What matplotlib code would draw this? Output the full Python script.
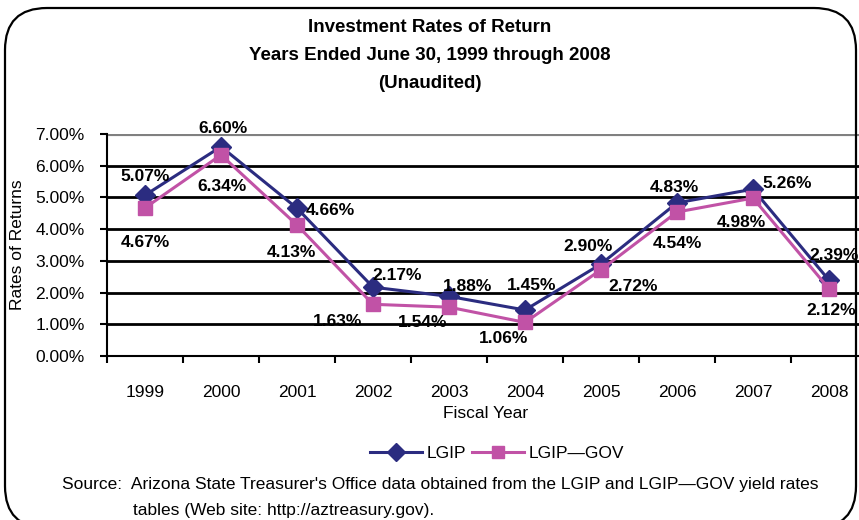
# Investment Rates of Return, LGIP vs LGIP-GOV
import matplotlib
matplotlib.use("Agg")
import matplotlib.pyplot as plt
from matplotlib.patches import FancyBboxPatch
from matplotlib.transforms import IdentityTransform

# data
years = ["1999", "2000", "2001", "2002", "2003", "2004", "2005", "2006", "2007", "2008"]
lgip = [5.07, 6.60, 4.66, 2.17, 1.88, 1.45, 2.90, 4.83, 5.26, 2.39]
lgip_gov = [4.67, 6.34, 4.13, 1.63, 1.54, 1.06, 2.72, 4.54, 4.98, 2.12]
title_lines = ["Investment Rates of Return", "Years Ended June 30, 1999 through 2008", "(Unaudited)"]

# label offsets in pixels (dx, dy)
lgip_off = [(0, 19), (2, 18), (33, -2), (24, 12), (19, 10), (7, 25), (-13, 18), (-3, 15), (34, 6), (5, 25)]
gov_off = [(0, -35), (1, -32), (-6, -27), (-35, -17), (-26, -15), (-21, -16), (32, -17), (0, -31), (-12, -24), (2, -22)]

navy = "#2B2C80"
pink = "#C152A6"
plt.rcParams["font.family"] = ["Liberation Sans", "DejaVu Sans"]

W, H = 859, 520
fig = plt.figure(figsize=(W / 100, H / 100), dpi=100)

# rounded border
box = FancyBboxPatch((5, -8), 851, 520, boxstyle="round,pad=0,rounding_size=42",
                     transform=IdentityTransform(), fill=False, edgecolor="black", linewidth=1.6)
fig.patches.append(box)

ax = fig.add_axes([107 / W, 1 - 356 / H, 760 / W, 222 / H])
x = list(range(len(years)))

for v in range(1, 7):
    ax.axhline(v, color="black", linewidth=2, zorder=1)
ax.axhline(7, color="#808080", linewidth=3, zorder=1)

ax.plot(x, lgip, color=navy, linewidth=2.2, marker="D", markersize=10, label="LGIP", zorder=3, clip_on=False)
ax.plot(x, lgip_gov, color=pink, linewidth=2.2, marker="s", markersize=10, label="LGIP\u2014GOV", zorder=3, clip_on=False)

for i in x:
    ax.annotate(f"{lgip[i]:.2f}%", (i, lgip[i]), xytext=lgip_off[i], textcoords="offset pixels",
                ha="center", va="center", fontsize=12.5, fontweight="bold", zorder=4, annotation_clip=False)
    ax.annotate(f"{lgip_gov[i]:.2f}%", (i, lgip_gov[i]), xytext=gov_off[i], textcoords="offset pixels",
                ha="center", va="center", fontsize=12.5, fontweight="bold", zorder=4, annotation_clip=False)

ax.set_xlim(-0.5, 9.5)
ax.set_ylim(0, 7)
ax.set_yticks(range(0, 8))
ax.set_yticklabels([f"{v:.2f}%" for v in range(0, 8)])
ax.set_xticks([i - 0.5 for i in range(11)])
ax.set_xticklabels([])
ax.set_xticks(x, minor=True)
ax.set_xticklabels(years, minor=True)
ax.tick_params(axis="x", which="major", length=5, width=1.5, direction="out")
ax.tick_params(axis="x", which="minor", length=0, pad=21, labelsize=12.5)
ax.tick_params(axis="y", length=5, width=1.5, pad=11, labelsize=12.5)

for s in ["top", "right"]:
    ax.spines[s].set_visible(False)
ax.spines["left"].set_linewidth(1.5)
ax.spines["bottom"].set_linewidth(1.5)

for ty, line in zip([28, 55, 83], title_lines):
    fig.text(430 / W, 1 - ty / H, line, ha="center", va="center", fontsize=13.5, fontweight="bold")
fig.text(18 / W, 1 - 245 / H, "Rates of Returns", rotation=90, ha="center", va="center", fontsize=12.5)
fig.text(486 / W, 1 - 413 / H, "Fiscal Year", ha="center", va="center", fontsize=12.5)

fig.legend(loc="center", bbox_to_anchor=(497 / W, 1 - 453 / H), ncol=2, frameon=False,
           fontsize=12.5, handlelength=3.0, columnspacing=0.3, handletextpad=0.3, markerscale=0.9)

fig.text(62 / W, 1 - 485 / H, "Source:  Arizona State Treasurer's Office data obtained from the LGIP and LGIP\u2014GOV yield rates",
         ha="left", va="center", fontsize=12.5)
fig.text(133 / W, 1 - 511 / H, "tables (Web site: http://aztreasury.gov).", ha="left", va="center", fontsize=12.5)

fig.savefig("out.png", dpi=100)
